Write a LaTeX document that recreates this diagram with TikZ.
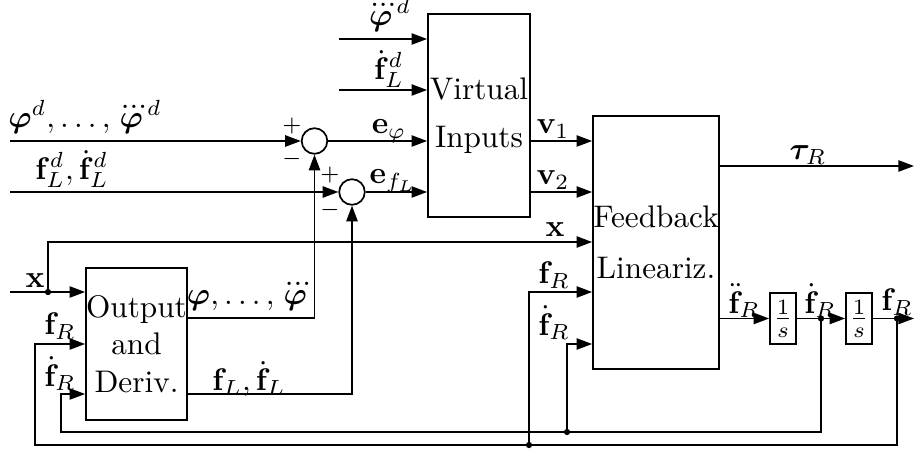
\documentclass[tikz,border=0pt]{standalone}
\usepackage{amsmath,bm}
\usetikzlibrary{arrows.meta}
\begin{document}
\begin{tikzpicture}[x=0.32pt,y=-0.32pt, line width=0.55pt,
  blk/.style={draw, inner sep=0pt, align=center},
  sumnode/.style={draw, circle, minimum size=8.2pt, inner sep=0pt},
  arr/.style={-{Triangle[length=5pt,width=3.6pt]}},
  dotnode/.style={circle, fill, inner sep=0pt, minimum size=2pt},
  lbl/.style={inner sep=0pt},
  sgn/.style={inner sep=0pt, font=\scriptsize}]
\useasboundingbox (0,0) rectangle (915,453);
% blocks
\node[blk, minimum width=32.64pt, minimum height=64.96pt] (vi) at (479,115.5) {Virtual\\[3.3pt]Inputs};
\node[blk, minimum width=40.32pt, minimum height=80.96pt] (fl) at (656,242.5) {Feedback\\[4.4pt]Lineariz.};
\node[blk, minimum width=32.32pt, minimum height=48.64pt] (od) at (136.5,344) {Output\\and\\Deriv.};
\node[blk, minimum width=8.32pt, minimum height=16.32pt] (i1) at (783,318.5) {$\frac{1}{s}$};
\node[blk, minimum width=8.32pt, minimum height=16.32pt] (i2) at (859,318.5) {$\frac{1}{s}$};
\node[sumnode] (s1) at (314.5,141) {};
\node[sumnode] (s2) at (352,192) {};
% signs
\node[sgn] (p1) at (292,126) {$+$};
\node[sgn] (m1) at (292,159) {$-$};
\node[sgn] (p2) at (330,175) {$+$};
\node[sgn] (m2) at (330,210) {$-$};
% coordinates
\coordinate (inphi) at (10,141);
\coordinate (infl) at (10,192);
\coordinate (inddd) at (339,39);
\coordinate (indf) at (339,90);
\coordinate (tauend) at (914,166);
\coordinate (xin) at (10,292);
\coordinate (xup) at (48,242);
\coordinate (c1) at (314.5,318);
\coordinate (c2) at (352,394);
\coordinate (outR) at (914,318.5);
\coordinate (yb1) at (0,432);
\coordinate (yb2) at (0,445);
\coordinate (odfd) at (61,394);
\coordinate (odf) at (35,344);
\coordinate (yflf) at (0,292);
\coordinate (yflfd) at (0,344);
\node[dotnode] (xdot) at (48,292) {};
\node[dotnode] (d1) at (821,318.5) {};
\node[dotnode] (d2) at (897,318.5) {};
\node[dotnode] (d3) at (567,432) {};
\node[dotnode] (d4) at (529,445) {};
% connectors
\draw[arr] (inphi) -- (s1);
\draw[arr] (infl) -- (s2);
\draw[arr] (s1) -- (s1 -| vi.west);
\draw[arr] (s2) -- (s2 -| vi.west);
\draw[arr] (inddd) -- (inddd -| vi.west);
\draw[arr] (indf) -- (indf -| vi.west);
\draw[arr] (vi.east |- s1) -- (fl.west |- s1);
\draw[arr] (vi.east |- s2) -- (fl.west |- s2);
\draw[arr] (fl.east |- tauend) -- (tauend);
\draw (xin) -- (xdot.center);
\draw[arr] (xdot.center) -- (xdot -| od.west);
\draw[arr] (xdot.center) -- (xup) -- (xup -| fl.west);
\draw[arr] (od.east |- c1) -- (c1) -- (s1);
\draw[arr] (od.east |- c2) -- (c2) -- (s2);
\draw[arr] (fl.east |- i1) -- (i1);
\draw[arr] (i1) -- (i2);
\draw[arr] (i2) -- (outR);
\draw[arr] (d1.center) -- (d1 |- yb1) -- (odfd |- yb1) -- (odfd) -- (od.west |- odfd);
\draw[arr] (d3.center) -- (d3 |- yflfd) -- (fl.west |- yflfd);
\draw[arr] (d2.center) -- (d2 |- yb2) -- (odf |- yb2) -- (odf) -- (od.west |- odf);
\draw[arr] (d4.center) -- (d4 |- yflf) -- (fl.west |- yflf);
% labels
\node[lbl] (lphid) at (85,117) {$\bm{\varphi}^d,\ldots,\dddot{\bm{\varphi}}^d$};
\node[lbl] (lfld) at (72,169) {$\mathbf{f}_L^d,\dot{\mathbf{f}}_L^d$};
\node[lbl] (lddd) at (388,15) {$\dddot{\bm{\varphi}}^d$};
\node[lbl] (ldf) at (389,69) {$\dot{\mathbf{f}}_L^d$};
\node[lbl] (lephi) at (389,131) {$\mathbf{e}_{\varphi}$};
\node[lbl] (lefl) at (393,181) {$\mathbf{e}_{f_L}$};
\node[lbl] (lv1) at (553,129) {$\mathbf{v}_1$};
\node[lbl] (lv2) at (553,180) {$\mathbf{v}_2$};
\node[lbl] (ltau) at (808,155) {$\bm{\tau}_R$};
\node[lbl] (lx1) at (555,230) {$\mathbf{x}$};
\node[lbl] (lx2) at (35,281) {$\mathbf{x}$};
\node[lbl] (lphi) at (249,298) {$\bm{\varphi},\ldots,\dddot{\bm{\varphi}}$};
\node[lbl] (lfl) at (249,379) {$\mathbf{f}_L,\dot{\mathbf{f}}_L$};
\node[lbl] (lfr1) at (554,275) {$\mathbf{f}_R$};
\node[lbl] (lfdr1) at (554,323) {$\dot{\mathbf{f}}_R$};
\node[lbl] (lfr2) at (60,326) {$\mathbf{f}_R$};
\node[lbl] (lfdr2) at (60,374) {$\dot{\mathbf{f}}_R$};
\node[lbl] (lfddr) at (744,301) {$\ddot{\mathbf{f}}_R$};
\node[lbl] (lfdr3) at (820,301) {$\dot{\mathbf{f}}_R$};
\node[lbl] (lfr3) at (897,302) {$\mathbf{f}_R$};
\end{tikzpicture}
\end{document}
